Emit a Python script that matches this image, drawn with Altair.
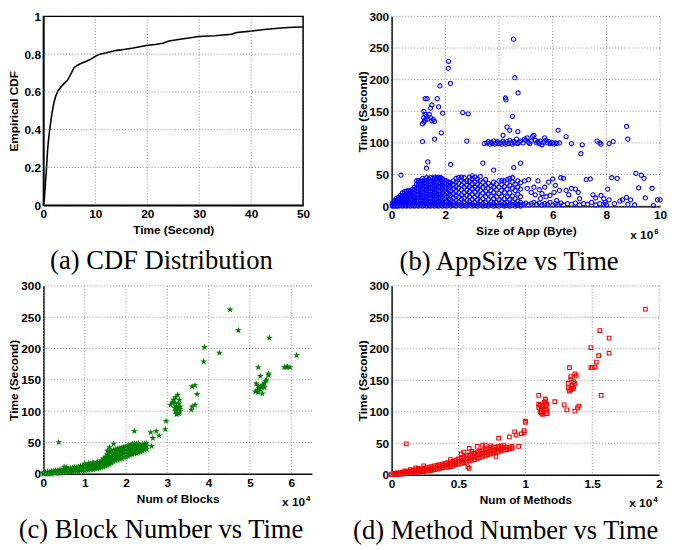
import altair as alt
import pandas as pd

SANS = "Liberation Sans"
SERIF = "Liberation Serif"
STAR = ("M0,-1L0.225,-0.309L0.951,-0.309L0.363,0.118L0.588,0.809L0,0.382"
        "L-0.588,0.809L-0.363,0.118L-0.951,-0.309L-0.225,-0.309Z")

# ---------------- (a) CDF ----------------
cdf_t = [0, 0.2, 0.4, 0.6, 0.8, 1.0, 1.3, 1.6, 2.0, 2.4, 2.8, 3.3, 4.0, 4.6, 5.2, 5.9,
         6.5, 7.2, 7.8, 8.5, 9.2, 10.1, 10.9, 12.0, 14.1, 15.5, 17.3, 19.8, 21.5, 23.0,
         24.2, 26.0, 28.0, 29.9, 33.0, 36.2, 37.2, 40.0, 42.5, 45.7, 48.0, 50.0]
cdf_v = [0, 0.04, 0.12, 0.2, 0.29, 0.35, 0.42, 0.48, 0.54, 0.58, 0.605, 0.624, 0.645, 0.66,
         0.69, 0.728, 0.74, 0.75, 0.757, 0.765, 0.775, 0.79, 0.80, 0.806, 0.82, 0.825, 0.832,
         0.846, 0.851, 0.858, 0.87, 0.877, 0.885, 0.893, 0.897, 0.905, 0.915, 0.922, 0.93,
         0.938, 0.942, 0.944]

# ---------------- (b) AppSize (x 1e6 byte) vs Time ----------------
b_dense = [
    (0.03, [0, 1, 3, 5]), (0.1, [0, 2, 4, 7, 9]), (0.18, [0, 1, 3, 6, 9, 12]),
    (0.25, [0, 2, 5, 8, 11, 14]), (0.33, [1, 3, 6, 10, 13, 17]), (0.4, [0, 2, 5, 9, 13, 17, 21]),
    (0.48, [1, 4, 8, 12, 16, 20, 23]), (0.55, [0, 3, 6, 10, 14, 19, 24]),
    (0.63, [1, 4, 8, 12, 17, 21, 25]), (0.7, [0, 3, 6, 11, 15, 20, 24]),
    (0.78, [1, 5, 9, 13, 18, 22, 27]), (0.85, [0, 3, 7, 12, 16, 21, 26, 30]),
    (0.93, [2, 5, 10, 14, 19, 24, 29, 35, 40]), (1.0, [0, 4, 8, 13, 18, 23, 28, 33, 38, 41]),
    (1.08, [1, 5, 10, 15, 20, 26, 31, 36, 40]), (1.15, [0, 3, 8, 13, 18, 23, 29, 34, 40, 44]),
    (1.23, [2, 6, 11, 16, 21, 27, 32, 37, 41]), (1.3, [0, 4, 9, 14, 19, 25, 30, 36, 41, 45]),
    (1.38, [1, 6, 11, 17, 22, 28, 33, 39, 43]), (1.45, [0, 3, 8, 13, 19, 24, 30, 35, 40, 45]),
    (1.53, [2, 6, 12, 17, 23, 28, 34, 40, 44]), (1.6, [0, 4, 9, 15, 20, 26, 31, 37, 42, 46]),
    (1.68, [1, 6, 11, 17, 22, 28, 33, 39, 45]), (1.75, [0, 3, 8, 14, 19, 25, 31, 37, 43, 46]),
    (1.83, [2, 6, 12, 18, 24, 30, 36, 41, 45]), (1.9, [0, 4, 9, 15, 21, 27, 33, 38, 43]),
    (1.98, [1, 6, 12, 18, 25, 31, 37, 41]), (2.05, [0, 3, 8, 15, 22, 29, 35, 40]),
    (2.13, [2, 6, 12, 19, 26, 33, 38]), (2.2, [0, 4, 10, 17, 24, 30, 37]),
    (2.3, [1, 6, 13, 20, 28, 34, 40]), (2.4, [0, 3, 9, 16, 23, 31, 38, 44]),
    (2.5, [2, 7, 14, 21, 29, 36, 45]), (2.6, [0, 4, 11, 18, 26, 33, 41, 46]),
    (2.7, [1, 6, 13, 22, 30, 38, 45]), (2.8, [0, 3, 9, 17, 25, 33, 40]),
    (2.9, [2, 7, 15, 23, 31, 39, 46]), (3.0, [0, 4, 11, 19, 28, 36, 44, 48]),
    (3.1, [1, 6, 14, 22, 30, 38, 46]), (3.2, [0, 3, 10, 18, 27, 35, 43]),
    (3.3, [2, 8, 16, 25, 33, 41, 47]), (3.4, [0, 4, 12, 21, 30, 38]),
    (3.5, [1, 6, 15, 24, 33, 42]), (3.6, [0, 3, 10, 19, 28, 36]),
    (3.7, [2, 7, 16, 25, 32]), (3.8, [0, 4, 12, 22, 30, 38]),
    (3.9, [1, 6, 15, 26, 35]), (4.0, [0, 3, 10, 20, 30, 40]),
    (4.1, [2, 7, 16, 25, 34, 41]), (4.2, [0, 4, 12, 22, 31, 40]),
    (4.3, [1, 6, 15, 27, 36, 42]), (4.4, [0, 3, 10, 21, 33, 44]),
    (4.5, [2, 7, 16, 28, 38, 45]), (4.6, [0, 4, 12, 25, 35]),
    (4.7, [1, 3, 8, 19, 30, 40]), (4.8, [0, 2, 6, 15, 27, 37]),
]
b_x = [4.9, 5.0, 5.1, 5.2, 5.3, 5.4, 5.5, 5.6, 5.7, 5.8, 5.9, 6.0, 6.1, 6.2, 6.3, 6.4, 6.55,
       6.7, 6.85, 7.0, 7.15, 7.3, 7.45, 7.6, 7.75, 7.9,
       4.95, 5.05, 5.1, 5.2, 5.3, 5.35, 5.45, 5.5, 5.55, 5.6, 5.7, 5.75, 5.85, 5.9, 6.0, 6.05,
       6.1, 6.15, 6.25, 6.3, 6.4, 6.5, 6.6, 6.7, 6.85, 6.95, 7.0, 7.25, 7.4, 7.5, 7.6, 7.8, 7.9,
       8.05, 8.1, 8.2, 8.4, 8.5, 8.6, 8.75, 8.9, 8.8, 9.05, 9.1, 9.2, 9.3, 9.4, 9.45, 9.7, 9.75,
       9.9, 10.0, 8.3, 8.0, 7.95,
       0.35, 1.3, 1.35, 2.2, 3.4, 3.8, 4.55, 4.8,
       1.15, 1.6, 1.85, 2.8,
       1.15, 1.2, 1.25, 1.2, 1.25, 1.2, 1.3, 1.35, 1.4, 1.45, 1.5, 1.45, 1.5, 1.55, 1.6, 1.25,
       1.32, 1.7, 1.75, 1.9, 1.8, 2.65, 2.85,
       2.12, 2.11, 2.19, 4.54, 4.59, 4.71, 4.24, 4.26, 4.5, 4.3, 4.4, 4.7, 4.15,
       3.45, 3.55, 3.6, 3.65, 3.7, 3.75, 3.8, 3.85, 3.9, 3.95, 4.0, 4.05, 4.1, 4.15, 4.2, 4.25,
       4.3, 4.35, 4.4, 4.45, 4.5, 4.55, 4.6, 4.65, 4.7, 4.75, 4.8, 4.9, 4.95, 5.0, 5.05, 5.1,
       5.15, 5.2, 5.25, 5.3, 5.35, 5.4, 5.45, 5.5, 5.55, 5.6, 5.65, 5.7, 5.75, 5.8, 5.85, 5.9,
       5.95, 6.0, 6.05, 6.1, 6.15, 6.2, 6.25, 6.5, 6.7, 7.05, 7.1, 7.65, 7.75, 7.8, 8.1, 8.25,
       8.75, 8.8]
b_y = [3, 5, 2, 4, 6, 3, 5, 2, 4, 3, 6, 2, 4, 3, 5, 2, 4,
       3, 5, 2, 4, 3, 6, 2, 4, 3,
       40, 28, 42, 22, 30, 18, 40, 26, 12, 20, 30, 15, 38, 17, 43, 22,
       33, 9, 25, 45, 44, 25, 18, 28, 27, 22, 12, 42, 43, 18, 13, 17, 12,
       27, 10, 45, 44, 8, 10, 14, 10, 3, 2, 52, 29, 49, 44, 13, 28, 1,
       10, 10, 4, 2, 6,
       49, 60, 70, 66, 68, 57, 61, 68,
       102, 106, 116, 103,
       130, 133, 136, 140, 145, 150, 142, 138, 145, 155, 160, 140, 135, 137, 134, 170,
       170, 170, 157, 147, 190, 148, 146,
       229, 218, 194, 264, 203, 179, 171, 168, 142, 125, 120, 118, 112,
       99, 100, 102, 98, 101, 99, 103, 98, 100, 102, 99, 101, 98, 103, 100, 98,
       102, 99, 104, 100, 98, 102, 100, 106, 99, 101, 103, 100, 106, 104, 108, 101,
       99, 103, 110, 112, 104, 100, 102, 99, 103, 97, 101, 108, 104, 100, 102, 99,
       101, 100, 98, 100, 99, 120, 100, 110, 99, 83, 97, 103, 100, 98, 99, 102,
       126, 106]

# ---------------- (c) Num of Blocks (x 1e4) vs Time ----------------
c_dense = [
    (0.0, [0, 1, 2]), (0.05, [0, 1, 2]), (0.1, [0, 1, 3]), (0.15, [0, 2, 3]), (0.2, [0, 2, 4]),
    (0.25, [1, 2, 4]), (0.3, [1, 3, 5]), (0.35, [1, 3, 5]), (0.4, [1, 3, 6]), (0.45, [2, 4, 6]),
    (0.5, [2, 4, 7, 11]), (0.55, [2, 5, 7, 10]), (0.6, [3, 5, 8]), (0.65, [3, 6, 9]),
    (0.7, [3, 6, 9]), (0.75, [4, 7, 10]), (0.8, [4, 7, 10]), (0.85, [4, 8, 11]),
    (0.9, [5, 8, 12]), (0.95, [5, 9, 12]), (1.0, [5, 9, 13, 16]), (1.05, [6, 10, 14]),
    (1.1, [6, 10, 14, 17]), (1.15, [7, 11, 15]), (1.2, [7, 11, 15, 18]), (1.25, [8, 12, 16]),
    (1.3, [8, 12, 16, 19]), (1.35, [9, 13, 17]), (1.4, [10, 14, 18, 21]),
    (1.45, [11, 15, 20, 24]), (1.5, [12, 17, 22, 27]), (1.55, [13, 19, 25, 31, 37]),
    (1.6, [15, 21, 28, 35, 42]), (1.65, [17, 23, 29, 36]), (1.7, [19, 25, 31, 38, 48]),
    (1.75, [21, 27, 33, 39]), (1.8, [22, 28, 34, 40]), (1.85, [23, 29, 35, 41]),
    (1.9, [24, 30, 36, 42]), (1.95, [26, 32, 38, 43]), (2.0, [27, 33, 39, 44]),
    (2.05, [28, 34, 40, 45]), (2.1, [30, 35, 41, 46]), (2.15, [31, 36, 42, 47]),
    (2.2, [32, 37, 43, 48, 68]), (2.25, [33, 38, 44, 48]), (2.3, [34, 40, 45, 49]),
    (2.35, [35, 41, 46]), (2.4, [36, 42, 47]), (2.45, [38, 43, 48]), (2.5, [39, 44, 49]),
]
c_x = [0.37, 2.62, 2.6, 2.65, 2.73, 2.8, 2.95, 2.97,
       3.08, 3.12, 3.15, 3.2, 3.25, 3.18, 3.22, 3.28, 3.3, 3.2, 3.24, 3.26, 3.28, 3.3, 3.22,
       3.27, 3.31, 3.19, 3.23, 3.29, 3.25,
       3.58, 3.6, 3.67, 3.6, 3.67, 3.72,
       3.88, 3.9, 4.26, 4.52, 4.72, 5.47, 6.13,
       5.2, 5.83, 5.88, 5.91, 5.97,
       5.13, 5.15, 5.18, 5.2, 5.22, 5.25, 5.25, 5.28, 5.3, 5.32, 5.35, 5.38, 5.4, 5.45, 5.45,
       5.3, 5.2, 5.35]
c_y = [50, 44, 66, 57, 68, 61, 71, 84,
       110, 114, 118, 122, 126, 105, 108, 112, 103, 100, 97, 100, 96, 99, 95,
       104, 107, 113, 102, 118, 98,
       102, 107, 110, 139, 141, 127,
       179, 202, 193, 262, 229, 217, 189,
       170, 170, 170, 171, 170,
       131, 144, 133, 140, 136, 156, 135, 138, 142, 140, 145, 148, 150, 160, 157,
       128, 130, 138]

# ---------------- (d) Num of Methods (x 1e4) vs Time ----------------
d_dense = [
    (0.0, [0, 1]), (0.02, [0, 1, 2]), (0.04, [0, 1, 2, 3]), (0.06, [1, 2, 3]),
    (0.08, [1, 2, 3, 4]), (0.1, [2, 3, 4, 6]), (0.12, [2, 4, 5]), (0.14, [3, 4, 6, 8]),
    (0.16, [3, 5, 7]), (0.18, [4, 6, 8, 11]), (0.2, [4, 6, 8, 10]), (0.22, [5, 7, 9]),
    (0.24, [5, 8, 10, 14]), (0.26, [6, 8, 11]), (0.28, [6, 9, 12]), (0.3, [7, 10, 13]),
    (0.32, [8, 11, 14]), (0.34, [9, 12, 15]), (0.36, [10, 13, 16]), (0.38, [11, 14, 17]),
    (0.4, [12, 15, 18]), (0.42, [12, 16, 19]), (0.44, [13, 17, 20, 24]), (0.46, [14, 18, 21]),
    (0.48, [16, 19, 23]), (0.5, [17, 21, 25]), (0.52, [18, 22, 26, 33]),
    (0.54, [19, 23, 28, 36]), (0.56, [20, 25, 30]), (0.58, [22, 26, 31, 42]),
    (0.6, [23, 28, 33, 37]), (0.62, [24, 29, 34]), (0.64, [26, 31, 36, 45]),
    (0.66, [27, 32, 37]), (0.68, [29, 34, 39, 47]), (0.7, [30, 35, 40]), (0.72, [32, 36, 41]),
    (0.74, [33, 38, 43, 46]), (0.76, [34, 39, 44]), (0.78, [36, 40, 44]), (0.8, [37, 41, 45]),
    (0.82, [38, 42, 46]), (0.84, [39, 43, 47]), (0.86, [40, 44]), (0.88, [41, 44]),
    (0.9, [42, 45]),
]
d_x = [0.11, 0.58, 0.57, 0.78, 0.7, 0.8, 0.88, 0.93, 0.92, 0.95, 0.97, 0.99, 0.99, 1.0, 1.0,
       1.1, 1.1, 1.1, 1.11, 1.12, 1.12, 1.13, 1.13, 1.14, 1.14, 1.14, 1.15, 1.15, 1.15, 1.15,
       1.16, 1.16, 1.16, 1.13, 1.11,
       1.22, 1.29, 1.31, 1.37, 1.39, 1.40,
       1.32, 1.32, 1.33, 1.33, 1.34, 1.34, 1.35, 1.35, 1.36, 1.36, 1.37, 1.38, 1.34, 1.35, 1.37,
       1.49, 1.5, 1.52, 1.53, 1.548, 1.49, 1.557, 1.626, 1.626, 1.567, 1.897]
d_y = [49, 10, 12, 29, 47, 58, 60, 63, 68, 45, 65, 67, 70, 83, 85,
       126, 107, 112, 100, 104, 98, 100, 108, 98, 102, 115, 105, 110, 117, 120,
       97, 103, 112, 96, 110,
       116, 111, 103, 101, 106, 109,
       138, 145, 133, 170, 135, 152, 140, 142, 148, 137, 160, 157, 156, 137, 145,
       170, 170, 171, 179, 189, 202, 229, 217, 193, 126, 263]

y_ticks = [0, 50, 100, 150, 200, 250, 300]
a_xticks = [0, 10, 20, 30, 40, 50]
a_yticks = [0, 0.2, 0.4, 0.6, 0.8, 1]
b_xticks = [0, 2, 4, 6, 8, 10]
c_xticks = [0, 1, 2, 3, 4, 5, 6]
d_xticks = [0, 0.5, 1, 1.5, 2]

GRID = dict(color="#8a8a8a", strokeDash=[1, 2], strokeWidth=1)


def flatten(cols, xs, ys):
    fx, fy = [], []
    for x, yl in cols:
        for y in yl:
            fx.append(float(x))
            fy.append(float(y))
    return pd.DataFrame({"x": fx + [float(v) for v in xs], "y": fy + [float(v) for v in ys]})


def grid_layers(xvals, yvals, xs, ys, xa, ya):
    gx = alt.Chart(pd.DataFrame({"x": [float(v) for v in xvals]})).mark_rule(**GRID).encode(
        x=alt.X("x:Q", scale=xs, axis=xa))
    gy = alt.Chart(pd.DataFrame({"y": [float(v) for v in yvals]})).mark_rule(**GRID).encode(
        y=alt.Y("y:Q", scale=ys, axis=ya))
    return [gx, gy]


def caption(text, cx, h):
    return alt.Chart(pd.DataFrame({"c": [text]})).mark_text(
        font=SERIF, fontSize=27, align="center", baseline="alphabetic", color="black"
    ).encode(x=alt.value(cx), y=alt.value(h + 65), text="c:N")


def exponent(p, w, h):
    base = alt.Chart(pd.DataFrame({"c": ["x 10"]})).mark_text(
        font=SANS, fontSize=12, fontWeight="bold", align="right", baseline="alphabetic", color="black"
    ).encode(x=alt.value(w - 7), y=alt.value(h + 33), text="c:N")
    sup = alt.Chart(pd.DataFrame({"c": [p]})).mark_text(
        font=SANS, fontSize=8, fontWeight="bold", align="left", baseline="alphabetic", color="black"
    ).encode(x=alt.value(w - 6), y=alt.value(h + 28), text="c:N")
    return [base, sup]


def xaxis(vals, title, w):
    return alt.Axis(values=vals, format="~r", title=title, titleX=w / 2, titleY=29,
                    titleBaseline="alphabetic", titleAlign="center", grid=False)


def yaxis(vals, title, h):
    return alt.Axis(values=vals, format="~r", title=title, titleX=-26, titleY=h / 2,
                    titleBaseline="alphabetic", titleAlign="center", titleAngle=270, grid=False)


def scatter_panel(df, mark, xs, ys, xa, ya, xt, w, h, p, cap, cx):
    pts = alt.Chart(df).mark_point(**mark).encode(
        x=alt.X("x:Q", scale=xs, axis=xa), y=alt.Y("y:Q", scale=ys, axis=ya))
    return alt.layer(pts, *grid_layers(xt, y_ticks, xs, ys, xa, ya), *exponent(p, w, h),
                     caption(cap, cx, h)).properties(width=w, height=h)


# panel a
WA, HA = 264, 192
xs_a = alt.Scale(domain=[0, 50], nice=False, zero=False)
ys_a = alt.Scale(domain=[0, 1], nice=False)
xa_a = xaxis(a_xticks, "Time (Second)", WA)
ya_a = yaxis(a_yticks, "Empirical CDF", HA)
line_a = alt.Chart(pd.DataFrame({"x": cdf_t, "y": cdf_v})).mark_line(
    color="black", strokeWidth=1.6
).encode(x=alt.X("x:Q", scale=xs_a, axis=xa_a), y=alt.Y("y:Q", scale=ys_a, axis=ya_a))
frame_a = alt.Chart(pd.DataFrame({"c": [0.0]})).mark_rect(
    fillOpacity=0, stroke="black", strokeWidth=1.5
).encode(x=alt.value(0), x2=alt.value(WA), y=alt.value(0), y2=alt.value(HA))
panel_a = alt.layer(line_a, *grid_layers(a_xticks, a_yticks, xs_a, ys_a, xa_a, ya_a), frame_a,
                    caption("(a) CDF Distribution", 120, HA)).properties(width=WA, height=HA)

# panel b
WB, HB = 273, 193
panel_b = scatter_panel(
    flatten(b_dense, b_x, b_y),
    dict(shape="circle", filled=False, color="#0000ff", size=18, strokeWidth=1.1, opacity=1),
    alt.Scale(domain=[0, 10], nice=False, zero=False), alt.Scale(domain=[0, 300], nice=False),
    xaxis(b_xticks, "Size of App (Byte)", WB), yaxis(y_ticks, "Time (Second)", HB),
    b_xticks, WB, HB, "6", "(b) AppSize vs Time", 119.5)

# panel c
WC, HC = 273, 191
panel_c = scatter_panel(
    flatten(c_dense, c_x, c_y),
    dict(shape=STAR, filled=True, color="#008000", size=55, opacity=1),
    alt.Scale(domain=[0, 6.5], nice=False, zero=False), alt.Scale(domain=[0, 300], nice=False),
    xaxis(c_xticks, "Num of Blocks", WC), yaxis(y_ticks, "Time (Second)", HC),
    c_xticks, WC, HC, "4", "(c) Block Number vs Time", 119.5)

# panel d
WD, HD = 272, 192
panel_d = scatter_panel(
    flatten(d_dense, d_x, d_y),
    dict(shape="square", filled=False, color="#ff0000", size=14, strokeWidth=1.1, opacity=1),
    alt.Scale(domain=[0, 2], nice=False, zero=False), alt.Scale(domain=[0, 300], nice=False),
    xaxis(d_xticks, "Num of Methods", WD), yaxis(y_ticks, "Time (Second)", HD),
    d_xticks, WD, HD, "4", "(d) Method Number vs Time", 116)

chart = alt.concat(
    panel_a, panel_b, panel_c, panel_d,
    columns=2, spacing={"row": 81, "column": 81}, bounds="flush", align="all"
).properties(
    padding={"left": 0, "top": -2, "right": 0, "bottom": 0}
).configure_view(
    stroke=None
).configure_axis(
    labelFont=SANS, labelFontSize=12, labelFontWeight="bold", labelColor="black",
    titleFont=SANS, titleFontSize=12, titleFontWeight="bold", titleColor="black",
    domainColor="black", domainWidth=1.5, ticks=False,
    labelPadding=3, labelFlush=False, labelOverlap=False
).configure_axisX(labelPadding=4)

chart.save("out.html", embed_options={"renderer": "svg", "actions": False})
